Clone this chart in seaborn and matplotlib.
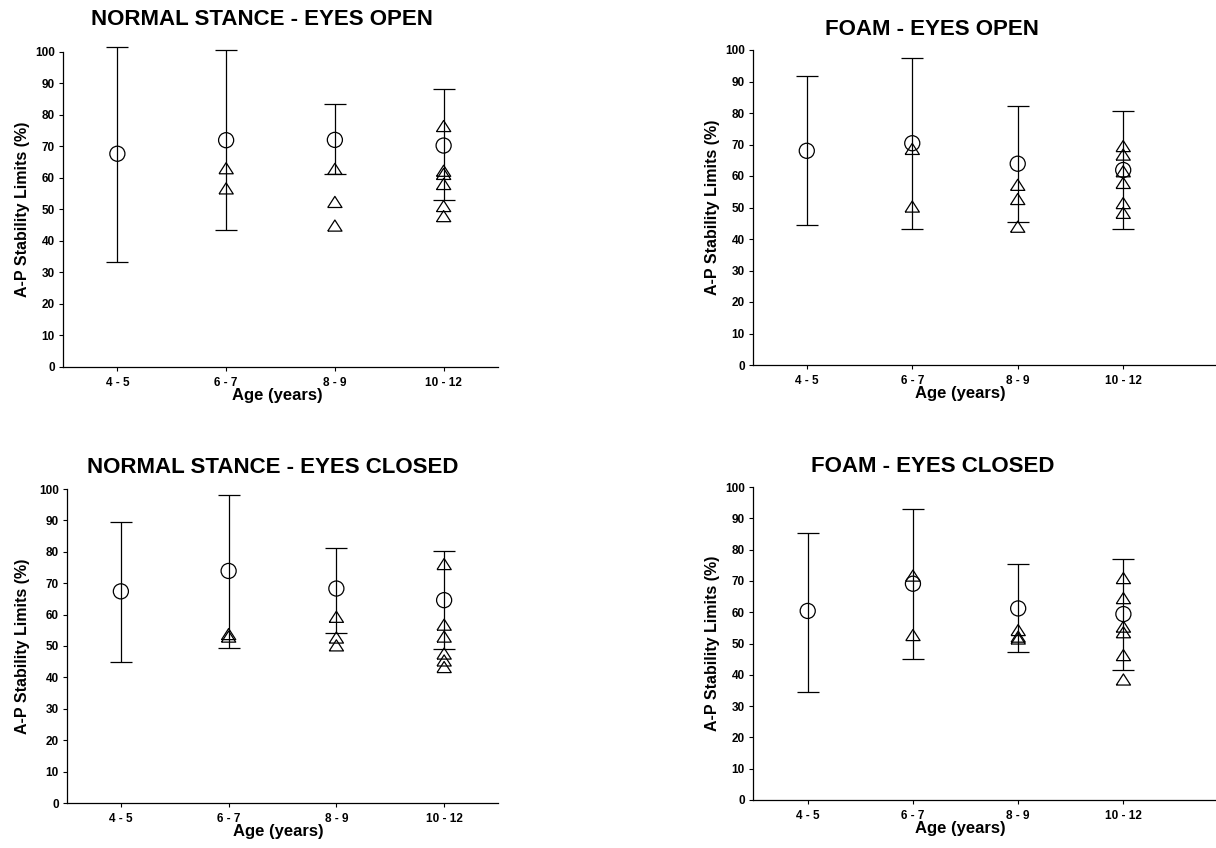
import matplotlib
matplotlib.use("Agg")
import matplotlib.pyplot as plt
from matplotlib.markers import MarkerStyle
import pandas as pd
import seaborn as sns

# age groups on the x axis
ages = ["4 - 5", "6 - 7", "8 - 9", "10 - 12"]

titles = ["NORMAL STANCE - EYES OPEN", "FOAM - EYES OPEN",
          "NORMAL STANCE - EYES CLOSED", "FOAM - EYES CLOSED"]

# circles = group mean, bars = upper / lower limits
ns_eo_mean = [67.7, 72.0, 72.1, 70.3]
ns_eo_upper = [101.6, 100.6, 83.5, 88.2]
ns_eo_lower = [33.3, 43.5, 61.3, 53.0]
ns_eo_tri_age = ["6 - 7", "6 - 7", "8 - 9", "8 - 9", "8 - 9",
                 "10 - 12", "10 - 12", "10 - 12", "10 - 12", "10 - 12", "10 - 12"]
ns_eo_tri_val = [63.1, 56.7, 62.9, 52.4, 44.9, 76.5, 62.3, 61.3, 58.1, 51.1, 47.9]

fo_eo_mean = [68.0, 70.4, 63.9, 61.9]
fo_eo_upper = [91.6, 97.5, 82.2, 80.7]
fo_eo_lower = [44.4, 43.3, 45.3, 43.1]
fo_eo_tri_age = ["6 - 7", "6 - 7", "8 - 9", "8 - 9", "8 - 9",
                 "10 - 12", "10 - 12", "10 - 12", "10 - 12", "10 - 12", "10 - 12"]
fo_eo_tri_val = [68.6, 50.3, 57.2, 52.7, 43.9, 69.5, 66.8, 61.5, 57.8, 51.4, 48.3]

ns_ec_mean = [67.4, 73.9, 68.3, 64.6]
ns_ec_upper = [89.6, 98.2, 81.1, 80.3]
ns_ec_lower = [45.0, 49.3, 54.0, 49.2]
ns_ec_tri_age = ["6 - 7", "6 - 7", "8 - 9", "8 - 9", "8 - 9",
                 "10 - 12", "10 - 12", "10 - 12", "10 - 12", "10 - 12", "10 - 12"]
ns_ec_tri_val = [53.8, 53.0, 59.3, 52.7, 50.2, 76.1, 56.8, 53.0, 47.6, 45.4, 43.3]

fo_ec_mean = [60.4, 69.1, 61.2, 59.4]
fo_ec_upper = [85.3, 93.1, 75.3, 77.0]
fo_ec_lower = [34.6, 45.0, 47.3, 41.4]
fo_ec_tri_age = ["6 - 7", "6 - 7", "8 - 9", "8 - 9", "8 - 9",
                 "10 - 12", "10 - 12", "10 - 12", "10 - 12", "10 - 12", "10 - 12"]
fo_ec_tri_val = [71.7, 52.7, 54.3, 52.2, 51.6, 70.9, 64.5, 55.4, 53.6, 46.3, 38.5]

summary = [
    (ns_eo_mean, ns_eo_upper, ns_eo_lower, ns_eo_tri_age, ns_eo_tri_val),
    (fo_eo_mean, fo_eo_upper, fo_eo_lower, fo_eo_tri_age, fo_eo_tri_val),
    (ns_ec_mean, ns_ec_upper, ns_ec_lower, ns_ec_tri_age, ns_ec_tri_val),
    (fo_ec_mean, fo_ec_upper, fo_ec_lower, fo_ec_tri_age, fo_ec_tri_val),
]

# layout in pixels: left, top, right, bottom of each axes
W, H = 1216, 848
boxes = [(63, 52, 498, 367), (753, 50, 1216, 365),
         (67, 489, 498, 803), (753, 487, 1216, 800)]
xlims = [(-0.5, 3.5), (-0.51, 3.88), (-0.5, 3.5), (-0.52, 3.88)]
title_x = [0.457, 0.387, 0.478, 0.389]
title_pad = [19.4, 10.8, 11.5, 10.8]
xlabel_x = [0.492, 0.447, 0.49, 0.447]
ylabel_x = [-0.076, -0.071, -0.086, -0.071]

sns.set_theme(style="ticks")
plt.rcParams["font.family"] = ["Liberation Sans", "DejaVu Sans"]
plt.rcParams["font.weight"] = "bold"
plt.rcParams["axes.labelweight"] = "bold"
plt.rcParams["axes.titleweight"] = "bold"
plt.rcParams["text.color"] = "black"
plt.rcParams["axes.labelcolor"] = "black"

tri = MarkerStyle([(-1, -0.78), (1, -0.78), (0, 0.78), (-1, -0.78)])
pos = {a: i for i, a in enumerate(ages)}

fig = plt.figure(figsize=(W / 100, H / 100), dpi=100)

for k, (mean, upper, lower, t_age, t_val) in enumerate(summary):
    l, t, r, b = boxes[k]
    ax = fig.add_axes([l / W, 1 - b / H, (r - l) / W, (b - t) / H])

    df = pd.DataFrame({"x": [pos[a] for a in ages], "mean": mean,
                       "upper": upper, "lower": lower})
    tri_df = pd.DataFrame({"x": [pos[a] for a in t_age], "value": t_val})

    ax.errorbar(df["x"], df["mean"],
                yerr=[df["mean"] - df["lower"], df["upper"] - df["mean"]],
                fmt="none", ecolor="black", elinewidth=0.9, capsize=8,
                capthick=0.9, clip_on=False, zorder=2)
    sns.scatterplot(data=tri_df, x="x", y="value", marker=tri, s=105,
                    facecolor="none", edgecolor="black", linewidth=0.9,
                    clip_on=False, zorder=3, ax=ax)
    sns.scatterplot(data=df, x="x", y="mean", marker="o", s=118,
                    facecolor="none", edgecolor="black", linewidth=0.9,
                    clip_on=False, zorder=3, ax=ax)

    ax.set_xlim(*xlims[k])
    ax.set_ylim(0, 100)
    ax.set_yticks(range(0, 101, 10))
    ax.set_xticks(range(len(ages)), ages)
    ax.tick_params(axis="both", direction="out", length=3, width=0.8,
                   labelsize=8.5, color="black", labelcolor="black")
    ax.tick_params(axis="y", pad=3)
    ax.tick_params(axis="x", pad=4)
    for sp in ["top", "right"]:
        ax.spines[sp].set_visible(False)
    for sp in ["left", "bottom"]:
        ax.spines[sp].set_color("black")
        ax.spines[sp].set_linewidth(0.9)

    ax.set_title(titles[k], fontsize=16, x=title_x[k], pad=title_pad[k],
                 color="black")
    ax.set_xlabel("Age (years)", fontsize=12)
    ax.set_ylabel("A-P Stability Limits (%)", fontsize=11.5)
    ax.xaxis.set_label_coords(xlabel_x[k], -0.068)
    ax.yaxis.set_label_coords(ylabel_x[k], 0.5)

fig.savefig("out.png", dpi=100)
